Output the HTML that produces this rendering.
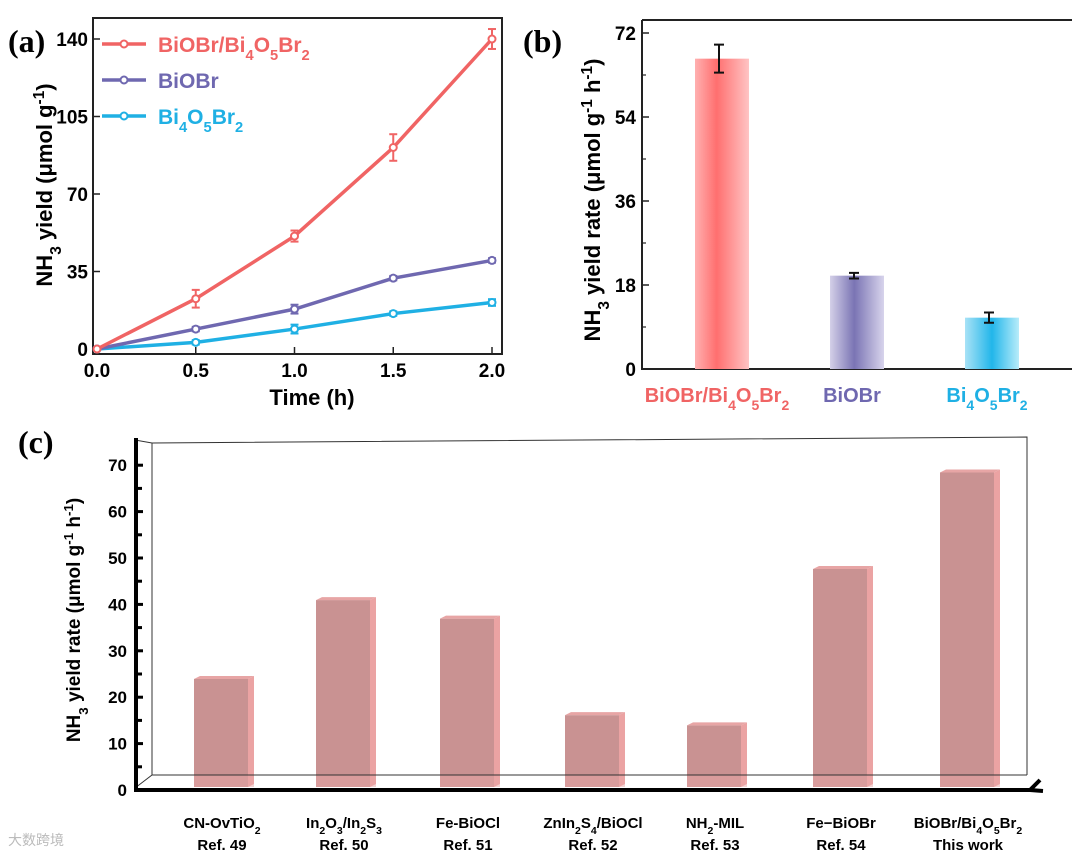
<!DOCTYPE html>
<html><head><meta charset="utf-8"><style>
body{margin:0;background:#fff;}
svg{display:block;font-family:"Liberation Sans",sans-serif;font-weight:bold;}
</style></head><body>
<svg id="s" width="1080" height="860" viewBox="0 0 1080 860" xmlns="http://www.w3.org/2000/svg">
<defs>
<linearGradient id="gr" x1="0" x2="1"><stop offset="0" stop-color="#ffb0b0"/><stop offset="0.4" stop-color="#ff6f6f"/><stop offset="1" stop-color="#ffc4c4"/></linearGradient>
<linearGradient id="gp" x1="0" x2="1"><stop offset="0" stop-color="#d4d0e8"/><stop offset="0.45" stop-color="#7a74b4"/><stop offset="1" stop-color="#d8d4ec"/></linearGradient>
<linearGradient id="gc" x1="0" x2="1"><stop offset="0" stop-color="#a8e2f6"/><stop offset="0.5" stop-color="#22b6ea"/><stop offset="1" stop-color="#b8ecfa"/></linearGradient>
</defs>
<g id="pa"></g>
<g id="pb"></g>
<g id="pc"></g>
<text x="8" y="845" font-size="14" fill="#bbb" font-weight="normal" font-family="Liberation Sans, Noto Sans CJK SC, sans-serif">大数跨境</text>
</svg>
<script>
// Panel a data
const aTimes=[0,0.5,1.0,1.5,2.0];
const aRed=[0,22.7,51,91,140];
const aRedErr=[0,4,2.5,6,4.5];
const aPurple=[0,9,18,32,40];
const aPurpleErr=[0,1,2,1,1];
const aCyan=[0,3,9,16,21];
const aCyanErr=[0,1,2,1,1.5];
const aYTicks=[0,35,70,105,140];
const aXTicks=[0,0.5,1.0,1.5,2.0];
// Panel b data
const bCats=["BiOBr/Bi4O5Br2","BiOBr","Bi4O5Br2"];
const bVals=[66.5,20,11];
const bErrs=[3,0.6,1.1];
const bYTicks=[0,18,36,54,72];
// Panel c data
const cCats=[["CN-OvTiO2","Ref. 49"],["In2O3/In2S3","Ref. 50"],["Fe-BiOCl","Ref. 51"],["ZnIn2S4/BiOCl","Ref. 52"],["NH2-MIL","Ref. 53"],["Fe−BiOBr","Ref. 54"],["BiOBr/Bi4O5Br2","This work"]];
const cVals=[23.5,40.5,36.5,15.7,13.5,47.2,68];
const cYTicks=[0,10,20,30,40,50,60,70];

const NS="http://www.w3.org/2000/svg";
function mk(p,t,a,txt){const e=document.createElementNS(NS,t);for(const k in a)e.setAttribute(k,a[k]);if(txt!==undefined)e.innerHTML=txt;p.appendChild(e);return e;}
function sub(s){return s.replace(/([A-Za-z\)])(\d)/g,(m,a,d)=>a+'<tspan baseline-shift="sub" font-size="70%">'+d+'</tspan>');}

// ---- Panel A ----
const pa=document.getElementById('pa');
const ax=v=>97+v/2*395, ay=v=>349-v/140*310;
let e=mk(pa,'rect',{x:93,y:18,width:409,height:336,fill:'none',stroke:'#222','stroke-width':2});


aYTicks.forEach(t=>{
 mk(pa,'line',{x1:93,x2:100,y1:ay(t),y2:ay(t),stroke:'#222','stroke-width':1.5});
 e=mk(pa,'text',{x:88,y:ay(t)+7,'font-size':19,'text-anchor':'end'},t);
 
 
});
aXTicks.forEach(t=>{
 mk(pa,'line',{x1:ax(t),x2:ax(t),y1:354,y2:347,stroke:'#222','stroke-width':1.5});
 e=mk(pa,'text',{x:ax(t),y:377,'font-size':19,'text-anchor':'middle'},t.toFixed(1));
 
 
});
e=mk(pa,'text',{x:312,y:405,'font-size':22,'text-anchor':'middle'},'Time (h)');


e=mk(pa,'text',{x:0,y:0,'font-size':22,'text-anchor':'middle',transform:'translate(52,185) rotate(-90)'},'NH<tspan baseline-shift="sub" font-size="70%">3</tspan> yield (μmol g<tspan baseline-shift="super" font-size="70%">-1</tspan>)');


e=mk(pa,'text',{x:8,y:52,'font-size':32,'font-family':'Liberation Serif, serif'},'(a)');


[[aCyan,aCyanErr,'#1fb0e4','bi4o5br2'],[aPurple,aPurpleErr,'#6f68b0','biobr'],[aRed,aRedErr,'#f06464','composite']].forEach(([vals,errs,col,nm])=>{
 const pts=aTimes.map((t,i)=>ax(t)+','+ay(vals[i])).join(' ');
 e=mk(pa,'polyline',{points:pts,fill:'none',stroke:col,'stroke-width':3.5});
 
 
 aTimes.forEach((t,i)=>{
  const x=ax(t),y1=ay(vals[i]+errs[i]),y2=ay(vals[i]-errs[i]);
  if(errs[i]>0){mk(pa,'line',{x1:x,x2:x,y1:y1,y2:y2,stroke:col,'stroke-width':2});
   mk(pa,'line',{x1:x-4,x2:x+4,y1:y1,y2:y1,stroke:col,'stroke-width':2});
   mk(pa,'line',{x1:x-4,x2:x+4,y1:y2,y2:y2,stroke:col,'stroke-width':2});}
  e=mk(pa,'circle',{cx:x,cy:ay(vals[i]),r:3.5,fill:'#fff',stroke:col,'stroke-width':2});
  
  
 });
});
[['BiOBr/Bi4O5Br2','#f06464',44],['BiOBr','#6f68b0',80],['Bi4O5Br2','#1fb0e4',116]].forEach(([l,c,y])=>{
 mk(pa,'line',{x1:102,x2:146,y1:y,y2:y,stroke:c,'stroke-width':3.5});
 mk(pa,'circle',{cx:124,cy:y,r:3.5,fill:'#fff',stroke:c,'stroke-width':2});
 e=mk(pa,'text',{x:158,y:y+8,'font-size':21,fill:c},sub(l));
 
 
});

// ---- Panel B ----
const pb=document.getElementById('pb');
const by=v=>369-v/72*336;
const bx=[722,857,992], bcol=['url(#gr)','url(#gp)','url(#gc)'], btxt=['#f06464','#6f68b0','#1fb0e4'];
mk(pb,'path',{d:'M642,20 L1072,20 M642,20 L642,369 L1072,369',fill:'none',stroke:'#222','stroke-width':2});
bYTicks.forEach((t,i)=>{
 mk(pb,'line',{x1:642,x2:649,y1:by(t),y2:by(t),stroke:'#222','stroke-width':1.5});
 if(i<4)mk(pb,'line',{x1:642,x2:646,y1:by(t+9),y2:by(t+9),stroke:'#222','stroke-width':1.2});
 e=mk(pb,'text',{x:636,y:by(t)+7,'font-size':19,'text-anchor':'end'},t);
 
 
});
bVals.forEach((v,i)=>{
 e=mk(pb,'rect',{x:bx[i]-27,y:by(v),width:54,height:369-by(v),fill:bcol[i]});
 
 
 const x=bx[i]-3,y1=by(v+bErrs[i]),y2=by(v-bErrs[i]);
 mk(pb,'path',{d:`M${x},${y1}V${y2}M${x-5},${y1}H${x+5}M${x-5},${y2}H${x+5}`,stroke:'#111','stroke-width':2,fill:'none'});
 e=mk(pb,'text',{x:bx[i]-5,y:402,'font-size':20,'text-anchor':'middle',fill:btxt[i]},sub(bCats[i]));
 
 
});
e=mk(pb,'text',{x:0,y:0,'font-size':22,'text-anchor':'middle',transform:'translate(600,200) rotate(-90)'},'NH<tspan baseline-shift="sub" font-size="70%">3</tspan> yield rate (μmol g<tspan baseline-shift="super" font-size="70%">-1</tspan> h<tspan baseline-shift="super" font-size="70%">-1</tspan>)');


e=mk(pb,'text',{x:523,y:52,'font-size':32,'font-family':'Liberation Serif, serif'},'(b)');



// ---- Panel C ----
const pc=document.getElementById('pc');
const cy=v=>788-v/10*46.4;
const cx=[222,344,468,593,715,841,968];
mk(pc,'path',{d:'M152,775 L152,443 L1027,437 L1027,775 M152,775 L1027,775 M135,440 L152,443 M135,788 L152,775',fill:'none',stroke:'#333','stroke-width':1});
cVals.forEach((v,i)=>{
 const x0=cx[i]-28,x1=cx[i]+26,t=cy(v);
 e=mk(pc,'rect',{x:x0,y:t,width:54,height:787-t,fill:'#c99292'});
 
 
 mk(pc,'path',{d:`M${x1},${t} L${x1+6},${t-3} L${x1+6},${784} L${x1},${787}Z`,fill:'#eba3a3'});
 mk(pc,'path',{d:`M${x0},${t} L${x0+6},${t-3} L${x1+6},${t-3} L${x1},${t}Z`,fill:'#e7a5a5'});
 mk(pc,'rect',{x:x0,y:775,width:60,height:12,fill:'#e9a5a5',opacity:0.5});
 const lb=cCats[i];
 e=mk(pc,'text',{x:cx[i],y:828,'font-size':15,'text-anchor':'middle'},sub(lb[0]));
 
 
 e=mk(pc,'text',{x:cx[i],y:850,'font-size':15,'text-anchor':'middle'},lb[1]);
 
 
});
mk(pc,'line',{x1:152,x2:1027,y1:775,y2:775,stroke:'#333','stroke-width':1});
mk(pc,'path',{d:'M136,438 L136,790 L1030,790 L1040,780 M1030,790 L1043,791',fill:'none',stroke:'#000','stroke-width':4});
cYTicks.forEach(t=>{
 mk(pc,'line',{x1:136,x2:143,y1:cy(t)+2,y2:cy(t)+2,stroke:'#000','stroke-width':3});
 if(t<70)mk(pc,'line',{x1:136,x2:142,y1:cy(t+5)+2,y2:cy(t+5)+2,stroke:'#000','stroke-width':3});
 e=mk(pc,'text',{x:127,y:cy(t)+8,'font-size':17,'text-anchor':'end'},t);
 
 
});
e=mk(pc,'text',{x:0,y:0,'font-size':19,'text-anchor':'middle',transform:'translate(80,620) rotate(-90)'},'NH<tspan baseline-shift="sub" font-size="70%">3</tspan> yield rate (μmol g<tspan baseline-shift="super" font-size="70%">-1</tspan> h<tspan baseline-shift="super" font-size="70%">-1</tspan>)');


e=mk(pc,'text',{x:18,y:453,'font-size':32,'font-family':'Liberation Serif, serif'},'(c)');


</script>
</body></html>
